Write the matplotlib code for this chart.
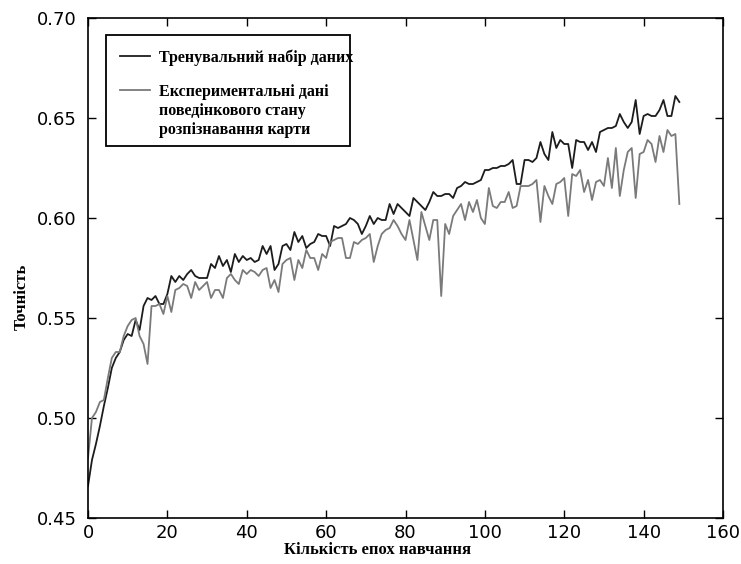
import numpy as np
import matplotlib
matplotlib.use("Agg")
import matplotlib.pyplot as plt
from matplotlib.patches import Rectangle

plt.rcParams["font.family"] = "DejaVu Sans"
plt.rcParams["font.size"] = 13

# epochs and accuracy series
epochs = np.arange(150)

train_acc = [
    0.466, 0.479, 0.487, 0.496, 0.506, 0.515, 0.525, 0.530, 0.533, 0.539,
    0.542, 0.541, 0.549, 0.544, 0.556, 0.560, 0.559, 0.561, 0.557, 0.557,
    0.562, 0.571, 0.568, 0.571, 0.569, 0.572, 0.574, 0.571, 0.570, 0.570,
    0.570, 0.577, 0.575, 0.581, 0.576, 0.579, 0.573, 0.582, 0.578, 0.581,
    0.579, 0.580, 0.578, 0.579, 0.586, 0.582, 0.586, 0.574, 0.577, 0.586,
    0.587, 0.584, 0.593, 0.588, 0.591, 0.585, 0.587, 0.588, 0.592, 0.591,
    0.591, 0.586, 0.596, 0.595, 0.596, 0.597, 0.600, 0.599, 0.597, 0.592,
    0.596, 0.601, 0.597, 0.600, 0.599, 0.599, 0.607, 0.602, 0.607, 0.605,
    0.603, 0.601, 0.610, 0.608, 0.606, 0.604, 0.608, 0.613, 0.611, 0.611,
    0.612, 0.612, 0.610, 0.615, 0.616, 0.618, 0.617, 0.617, 0.618, 0.619,
    0.624, 0.624, 0.625, 0.625, 0.626, 0.626, 0.627, 0.629, 0.617, 0.617,
    0.629, 0.629, 0.628, 0.630, 0.638, 0.632, 0.629, 0.643, 0.635, 0.639,
    0.637, 0.637, 0.625, 0.639, 0.638, 0.638, 0.634, 0.638, 0.633, 0.643,
    0.644, 0.645, 0.645, 0.646, 0.652, 0.648, 0.645, 0.648, 0.659, 0.642,
    0.651, 0.652, 0.651, 0.651, 0.654, 0.659, 0.651, 0.651, 0.661, 0.658,
]

exp_acc = [
    0.480, 0.500, 0.503, 0.508, 0.509, 0.520, 0.530, 0.533, 0.533, 0.541,
    0.546, 0.549, 0.550, 0.541, 0.537, 0.527, 0.556, 0.556, 0.557, 0.552,
    0.561, 0.553, 0.564, 0.565, 0.567, 0.566, 0.560, 0.568, 0.564, 0.566,
    0.568, 0.560, 0.564, 0.564, 0.560, 0.570, 0.572, 0.569, 0.567, 0.574,
    0.572, 0.574, 0.573, 0.571, 0.574, 0.575, 0.565, 0.569, 0.563, 0.577,
    0.579, 0.580, 0.569, 0.579, 0.575, 0.584, 0.580, 0.580, 0.574, 0.582,
    0.580, 0.588, 0.589, 0.590, 0.590, 0.580, 0.580, 0.588, 0.587, 0.589,
    0.590, 0.592, 0.578, 0.586, 0.592, 0.594, 0.595, 0.599, 0.596, 0.592,
    0.589, 0.599, 0.589, 0.579, 0.603, 0.596, 0.589, 0.599, 0.599, 0.561,
    0.597, 0.592, 0.601, 0.604, 0.607, 0.599, 0.608, 0.603, 0.609, 0.600,
    0.597, 0.615, 0.606, 0.605, 0.608, 0.608, 0.613, 0.605, 0.606, 0.616,
    0.616, 0.616, 0.617, 0.619, 0.598, 0.616, 0.611, 0.607, 0.617, 0.618,
    0.620, 0.601, 0.622, 0.621, 0.624, 0.613, 0.619, 0.609, 0.618, 0.619,
    0.616, 0.630, 0.615, 0.635, 0.611, 0.624, 0.633, 0.635, 0.610, 0.632,
    0.633, 0.639, 0.637, 0.628, 0.641, 0.633, 0.644, 0.641, 0.642, 0.607,
]

train_label = "Тренувальний набір даних"
exp_label = ["Експериментальні дані", "поведінкового стану", "розпізнавання карти"]
x_label = "Кількість епох навчання"
y_label = "Точність"

serif_bold = {"family": "Liberation Serif", "weight": "bold"}
W, H = 741, 564
leg_size = 11.5

fig = plt.figure(figsize=(W / 100, H / 100), dpi=100)
ax = fig.add_axes([88 / W, 1 - 518 / H, 635 / W, 500 / H])

ax.plot(epochs, train_acc, color="#1c1c1c", linewidth=1.3, label=train_label)
ax.plot(epochs, exp_acc, color="#7a7a7a", linewidth=1.3, label=exp_label[0])

ax.set_xlim(0, 160)
ax.set_ylim(0.45, 0.70)
ax.set_xticks(np.arange(0, 161, 20))
yt = np.arange(0.45, 0.701, 0.05)
ax.set_yticks(yt)
ax.set_yticklabels([f"{v:.2f}" for v in yt])
ax.tick_params(direction="in", top=True, right=True, length=6, width=1,
               labelsize=13)
ax.tick_params(axis="y", pad=8)
ax.tick_params(axis="x", pad=4)
for sp in ax.spines.values():
    sp.set_linewidth(1.2)

# labels sit a bit off-centre in the reference
fig.text(378 / W, 1 - 550 / H, x_label, ha="center", va="center",
         fontsize=12, **serif_bold)
fig.text(22 / W, 1 - 297 / H, y_label, ha="center", va="center",
         rotation=90, fontsize=12, **serif_bold)

# legend box drawn by hand, a touch narrower than the text like the original
ax.add_patch(Rectangle((106 / W, 1 - 146 / H), 244 / W, 111 / H,
                       transform=fig.transFigure, facecolor="white",
                       edgecolor="black", linewidth=1.3, zorder=4,
                       clip_on=False))

leg = ax.legend(loc="upper left", bbox_to_anchor=(120 / W, 1 - 49 / H),
                bbox_transform=fig.transFigure, borderaxespad=0,
                borderpad=0, frameon=False, handlelength=1.85,
                handletextpad=0.62, labelspacing=1.15,
                prop={"family": "Liberation Serif", "weight": "bold",
                      "size": leg_size})
leg.set_zorder(5)

fig.canvas.draw()
bb = leg.get_texts()[1].get_window_extent()
fig.text(bb.x0 / W, (bb.y0 - 3) / H, "\n".join(exp_label[1:]),
         ha="left", va="top", linespacing=1.25, fontsize=leg_size, zorder=6,
         **serif_bold)

fig.savefig("out.png", dpi=100)
